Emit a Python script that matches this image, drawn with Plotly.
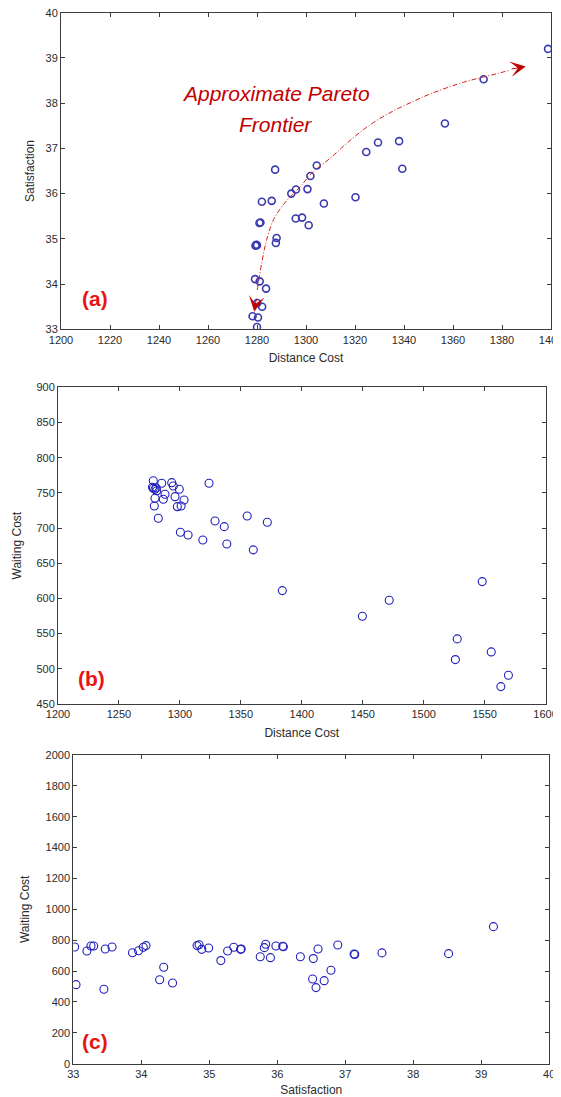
import plotly.graph_objects as go

# the page body adds an 8px margin, so the figure is drawn 8px smaller and offset
OFF = 8
W, H = 561 - OFF, 1097 - OFF

# ---------------- Panel (a): Distance Cost vs Satisfaction ----------------
a_distance = [1398.8, 1372.5, 1356.7, 1338.0, 1329.4, 1324.6, 1339.3, 1304.4, 1301.8, 1287.4,
              1300.6, 1295.9, 1294.0, 1320.2, 1307.3, 1282.0, 1286.0, 1281.4, 1281.0, 1295.8,
              1298.4, 1301.1, 1279.7, 1279.4, 1280.0, 1288.0, 1287.7, 1279.2, 1281.1, 1283.7,
              1278.2, 1280.4, 1282.1, 1280.0, 1280.1]
a_satisfaction = [39.20, 38.53, 37.55, 37.16, 37.13, 36.92, 36.55, 36.62, 36.39, 36.53,
                  36.10, 36.09, 36.00, 35.92, 35.78, 35.82, 35.84, 35.36, 35.35, 35.45,
                  35.47, 35.30, 34.87, 34.85, 34.86, 35.02, 34.91, 34.11, 34.06, 33.90,
                  33.29, 33.26, 33.50, 33.05, 33.58]

# approximate Pareto frontier guide curve (annotation)
arc_distance = [1280.1, 1281.9, 1283.9, 1286.7, 1290.1, 1293.5, 1297.6, 1302.3, 1309.8,
                1316.6, 1324.8, 1334.3, 1343.8, 1351.0, 1364.2, 1377.8, 1383.3]
arc_satisfaction = [33.87, 34.46, 34.97, 35.42, 35.71, 35.93, 36.15, 36.45, 36.78,
                    37.11, 37.47, 37.79, 38.04, 38.21, 38.46, 38.65, 38.73]

# ---------------- Panel (b): Distance Cost vs Waiting Cost ----------------
b_distance = [1278.2, 1285.1, 1293.3, 1294.6, 1299.5, 1278.2, 1277.5, 1279.5, 1280.5, 1281.0,
              1287.8, 1296.0, 1279.6, 1286.4, 1303.4, 1297.9, 1301.0, 1279.0, 1282.3, 1323.9,
              1328.8, 1336.4, 1300.4, 1306.7, 1318.8, 1338.5, 1355.2, 1371.7, 1360.2, 1384.0,
              1449.7, 1471.7, 1548.0, 1527.5, 1526.0, 1555.4, 1569.5, 1563.3]
b_waiting = [767.3, 763.6, 764.5, 759.8, 755.1, 756.5, 758.0, 755.0, 757.0, 753.1,
             748.0, 744.6, 742.3, 740.9, 739.9, 730.4, 731.4, 731.4, 713.9, 763.6,
             710.0, 702.0, 694.0, 690.2, 683.1, 677.4, 717.2, 708.2, 669.0, 611.1,
             574.7, 597.4, 623.9, 542.5, 513.1, 524.0, 490.9, 474.7]

# ---------------- Panel (c): Satisfaction vs Waiting Cost ----------------
c_satisfaction = [33.02, 33.04, 33.20, 33.26, 33.30, 33.47, 33.45, 33.57, 33.87, 33.96,
                  34.03, 34.07, 34.27, 34.33, 34.46, 34.82, 34.85, 34.89, 34.99, 35.17,
                  35.27, 35.36, 35.46, 35.47, 35.75, 35.81, 35.83, 35.90, 35.98, 36.08,
                  36.09, 36.34, 36.52, 36.53, 36.57, 36.60, 36.69, 36.79, 36.89, 37.13,
                  37.14, 37.54, 38.52, 39.18]
c_waiting = [756, 512, 730, 763, 763, 743, 482, 756, 719, 732,
             754, 765, 544, 625, 523, 765, 771, 741, 750, 668,
             730, 754, 741, 743, 693, 752, 774, 687, 763, 761,
             758, 693, 549, 681, 493, 743, 538, 605, 769, 711,
             708, 718, 713, 888]

FONT = "Arial, Liberation Sans, sans-serif"
AXIS_COLOR = "#3c3c3c"
TEXT_COLOR = "#2b2b2b"


def px_x(p):
    return (p - OFF) / W


def px_y(p):
    return 1 - (p - OFF) / H


fig = go.Figure()

marker_a = dict(symbol="circle-open", size=7, color="#3a3ab0", line=dict(width=1.6, color="#3a3ab0"))
marker_bc = dict(symbol="circle-open", size=8, color="#2020bb", line=dict(width=1.1, color="#2020bb"))

fig.add_trace(go.Scatter(x=a_distance, y=a_satisfaction, mode="markers", marker=marker_a,
                         xaxis="x", yaxis="y", showlegend=False, hoverinfo="skip"))
fig.add_trace(go.Scatter(x=arc_distance, y=arc_satisfaction, mode="lines",
                         line=dict(color="#d42020", width=1, dash="5px,2px,1px,2px", shape="spline"),
                         xaxis="x", yaxis="y", showlegend=False, hoverinfo="skip"))
fig.add_trace(go.Scatter(x=b_distance, y=b_waiting, mode="markers", marker=marker_bc,
                         xaxis="x2", yaxis="y2", showlegend=False, hoverinfo="skip"))
fig.add_trace(go.Scatter(x=c_satisfaction, y=c_waiting, mode="markers", marker=marker_bc,
                         xaxis="x3", yaxis="y3", showlegend=False, hoverinfo="skip"))


def axis(domain, rng, dtick, anchor, title, standoff):
    return dict(domain=domain, range=rng, dtick=dtick, anchor=anchor, automargin=False,
                showgrid=False, zeroline=False, showline=True, mirror="ticks",
                linecolor=AXIS_COLOR, linewidth=1, ticks="inside", ticklen=4,
                tickcolor=AXIS_COLOR, tickwidth=1, ticklabeloverflow="allow",
                tickfont=dict(family=FONT, size=11, color=TEXT_COLOR),
                title=dict(text=title, font=dict(family=FONT, size=12, color=TEXT_COLOR),
                           standoff=standoff))


fig.update_layout(
    template="none",
    width=W, height=H, margin=dict(l=0, r=0, t=0, b=0, autoexpand=False),
    paper_bgcolor="white", plot_bgcolor="white",
    xaxis=axis([px_x(61), px_x(551)], [1200, 1400], 20, "y", "Distance Cost", 9),
    yaxis=axis([px_y(329.3), px_y(12.7)], [33, 40], 1, "x", "Satisfaction", 8),
    xaxis2=axis([px_x(58), px_x(545.6)], [1200, 1600], 50, "y2", "Distance Cost", 9),
    yaxis2=axis([px_y(704), px_y(387.3)], [450, 900], 50, "x2", "Waiting Cost", 12),
    xaxis3=axis([px_x(73.3), px_x(549.2)], [33, 40], 1, "y3", "Satisfaction", 9),
    yaxis3=axis([px_y(1063.7), px_y(755)], [0, 2000], 200, "x3", "Waiting Cost", 13),
)

annotations = []
# frontier label
annotations.append(dict(text="<i>Approximate Pareto</i>", x=px_x(275.5), y=px_y(93),
                        xref="paper", yref="paper", showarrow=False, xanchor="center", yanchor="middle",
                        font=dict(family=FONT, size=21, color="#c00000")))
annotations.append(dict(text="<i>Frontier</i>", x=px_x(275.5), y=px_y(125),
                        xref="paper", yref="paper", showarrow=False, xanchor="center", yanchor="middle",
                        font=dict(family=FONT, size=21, color="#c00000")))
# arrow heads of the frontier curve
annotations.append(dict(x=1278.9, y=33.39, ax=1279.8, ay=33.71, xref="x", yref="y", axref="x", ayref="y",
                        text="", showarrow=True, arrowhead=3, arrowsize=2.6, arrowwidth=1.0,
                        arrowcolor="#c00000", standoff=0))
annotations.append(dict(x=1389.7, y=38.81, ax=1383.3, ay=38.75, xref="x", yref="y", axref="x", ayref="y",
                        text="", showarrow=True, arrowhead=3, arrowsize=2.6, arrowwidth=1.0,
                        arrowcolor="#c00000", standoff=0))
# panel labels
for lab, cx, cy in [("(a)", 94.5, 299), ("(b)", 91.2, 678), ("(c)", 95, 1041)]:
    annotations.append(dict(text=f"<b>{lab}</b>", x=px_x(cx), y=px_y(cy), xref="paper", yref="paper",
                            showarrow=False, xanchor="center", yanchor="middle",
                            font=dict(family=FONT, size=21, color="#e81414")))
fig.update_layout(annotations=annotations)

fig.write_html("out.html")
